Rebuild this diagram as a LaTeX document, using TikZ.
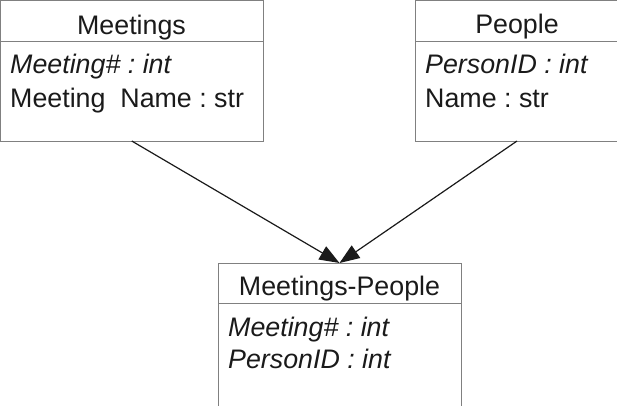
\documentclass[tikz,border=0pt]{standalone}
\usepackage{fontspec}
\setmainfont{Liberation Sans}
\usetikzlibrary{arrows.meta}
\definecolor{boxgray}{HTML}{808080}
\definecolor{ink}{HTML}{1A1A1A}
\frenchspacing
\begin{document}
\begin{tikzpicture}[x=1pt,y=-1pt,
  cls/.style={draw=boxgray, line width=1pt, rectangle, inner sep=0pt, outer sep=0pt, anchor=north west},
  divider/.style={draw=boxgray, line width=1pt},
  ttl/.style={anchor=base, inner sep=0pt, text=ink, font=\fontsize{26.8}{32}\selectfont\frenchspacing},
  attr/.style={anchor=base west, inner sep=0pt, text=ink, font=\fontsize{26.8}{32}\selectfont\frenchspacing},
  key/.style={attr, font=\fontsize{26.8}{32}\selectfont\itshape\frenchspacing},
  assoc/.style={draw=ink, line width=1.2pt, -{Triangle[length=20pt,width=15pt]}}]
\useasboundingbox (0,0) rectangle (617,405);
\clip (0,0) rectangle (617,405);
% boxes
\node[cls, minimum width=262.5pt, minimum height=140.5pt] (M) at (0.5,0.5) {};
\node[cls, minimum width=204pt, minimum height=140.5pt] (P) at (415,0.5) {};
\node[cls, minimum width=243pt, minimum height=150pt] (MP) at (218,263) {};
% dividers
\draw[divider] (M.west |- 0,41) -- (M.east |- 0,41);
\draw[divider] (P.west |- 0,41) -- (P.east |- 0,41);
\draw[divider] (MP.west |- 0,303) -- (MP.east |- 0,303);
% texts
\node[ttl] (Mt) at (131.5,34) {Meetings};
\node[key] (Ma1) at (10,73) {Meeting\# : int};
\node[attr] (Ma2) at (10,107) {Meeting~~Name : str};
\node[ttl] (Pt) at (517,33) {People};
\node[key] (Pa1) at (425,73) {PersonID : int};
\node[attr] (Pa2) at (425,107) {Name : str};
\node[ttl] (MPt) at (339.5,295) {Meetings-People};
\node[key] (MPa1) at (228,336) {Meeting\# : int};
\node[key] (MPa2) at (228,368) {PersonID : int};
% connectors
\draw[assoc] (M.south) -- (MP.north);
\draw[assoc] (P.south -| 517,0) -- (MP.north);
\end{tikzpicture}
\end{document}
